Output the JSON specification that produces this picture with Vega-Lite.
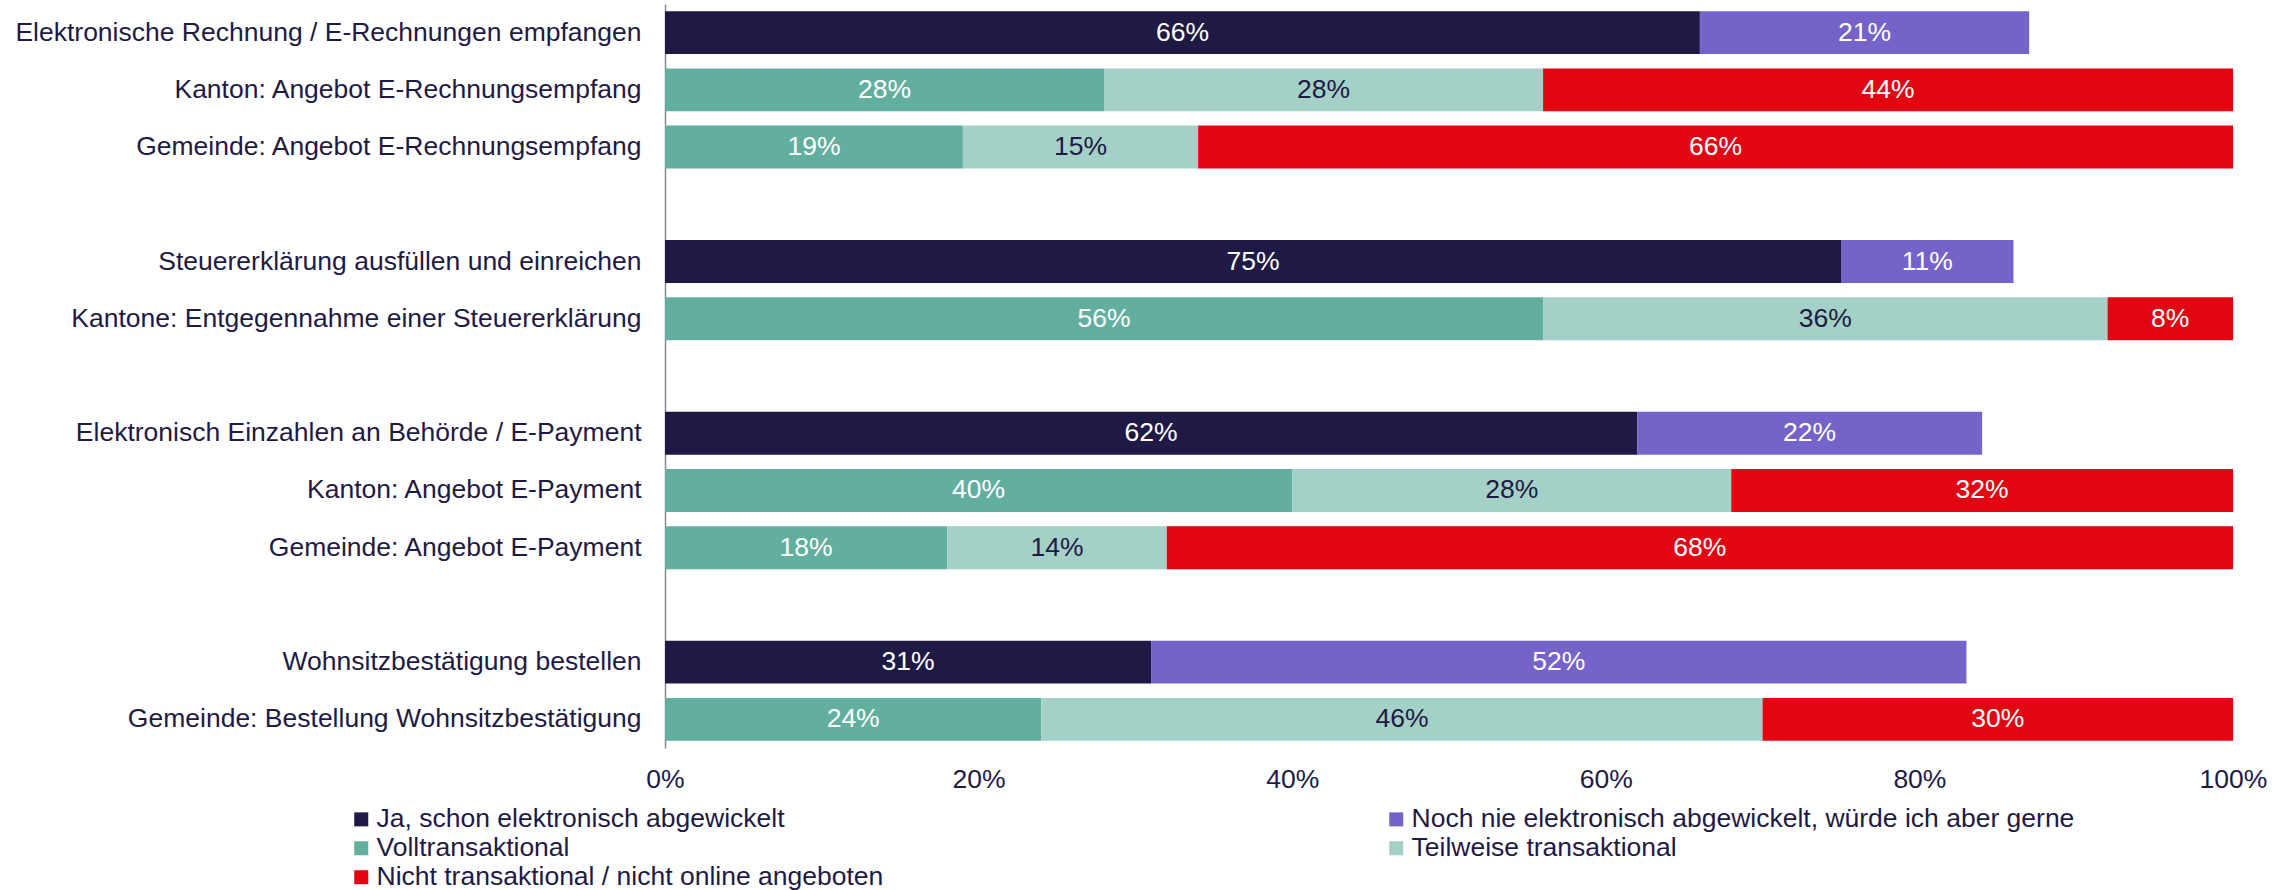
{
  "$schema": "https://vega.github.io/schema/vega-lite/v6.json",
  "autosize": "none",
  "width": 1568,
  "height": 744,
  "padding": {"left": 665, "top": 4, "right": 60, "bottom": 142},
  "background": "white",
  "config": {"font": "Liberation Sans", "view": {"stroke": null}},
  "data": {"values": [
    {"label": "Elektronische Rechnung / E-Rechnungen empfangen", "cat": "Ja, schon elektronisch abgewickelt", "order": 1, "value": 66},
    {"label": "Elektronische Rechnung / E-Rechnungen empfangen", "cat": "Noch nie elektronisch abgewickelt, würde ich aber gerne", "order": 2, "value": 21},
    {"label": "Kanton: Angebot E-Rechnungsempfang", "cat": "Volltransaktional", "order": 3, "value": 28},
    {"label": "Kanton: Angebot E-Rechnungsempfang", "cat": "Teilweise transaktional", "order": 4, "value": 28},
    {"label": "Kanton: Angebot E-Rechnungsempfang", "cat": "Nicht transaktional / nicht online angeboten", "order": 5, "value": 44},
    {"label": "Gemeinde: Angebot E-Rechnungsempfang", "cat": "Volltransaktional", "order": 3, "value": 19},
    {"label": "Gemeinde: Angebot E-Rechnungsempfang", "cat": "Teilweise transaktional", "order": 4, "value": 15},
    {"label": "Gemeinde: Angebot E-Rechnungsempfang", "cat": "Nicht transaktional / nicht online angeboten", "order": 5, "value": 66},
    {"label": "Steuererklärung ausfüllen und einreichen", "cat": "Ja, schon elektronisch abgewickelt", "order": 1, "value": 75},
    {"label": "Steuererklärung ausfüllen und einreichen", "cat": "Noch nie elektronisch abgewickelt, würde ich aber gerne", "order": 2, "value": 11},
    {"label": "Kantone: Entgegennahme einer Steuererklärung", "cat": "Volltransaktional", "order": 3, "value": 56},
    {"label": "Kantone: Entgegennahme einer Steuererklärung", "cat": "Teilweise transaktional", "order": 4, "value": 36},
    {"label": "Kantone: Entgegennahme einer Steuererklärung", "cat": "Nicht transaktional / nicht online angeboten", "order": 5, "value": 8},
    {"label": "Elektronisch Einzahlen an Behörde / E-Payment", "cat": "Ja, schon elektronisch abgewickelt", "order": 1, "value": 62},
    {"label": "Elektronisch Einzahlen an Behörde / E-Payment", "cat": "Noch nie elektronisch abgewickelt, würde ich aber gerne", "order": 2, "value": 22},
    {"label": "Kanton: Angebot E-Payment", "cat": "Volltransaktional", "order": 3, "value": 40},
    {"label": "Kanton: Angebot E-Payment", "cat": "Teilweise transaktional", "order": 4, "value": 28},
    {"label": "Kanton: Angebot E-Payment", "cat": "Nicht transaktional / nicht online angeboten", "order": 5, "value": 32},
    {"label": "Gemeinde: Angebot E-Payment", "cat": "Volltransaktional", "order": 3, "value": 18},
    {"label": "Gemeinde: Angebot E-Payment", "cat": "Teilweise transaktional", "order": 4, "value": 14},
    {"label": "Gemeinde: Angebot E-Payment", "cat": "Nicht transaktional / nicht online angeboten", "order": 5, "value": 68},
    {"label": "Wohnsitzbestätigung bestellen", "cat": "Ja, schon elektronisch abgewickelt", "order": 1, "value": 31},
    {"label": "Wohnsitzbestätigung bestellen", "cat": "Noch nie elektronisch abgewickelt, würde ich aber gerne", "order": 2, "value": 52},
    {"label": "Gemeinde: Bestellung Wohnsitzbestätigung", "cat": "Volltransaktional", "order": 3, "value": 24},
    {"label": "Gemeinde: Bestellung Wohnsitzbestätigung", "cat": "Teilweise transaktional", "order": 4, "value": 46},
    {"label": "Gemeinde: Bestellung Wohnsitzbestätigung", "cat": "Nicht transaktional / nicht online angeboten", "order": 5, "value": 30}
  ]},
  "transform": [
    {"stack": "value", "groupby": ["label"], "sort": [{"field": "order"}], "as": ["v0", "v1"]},
    {"calculate": "(datum.v0 + datum.v1) / 2", "as": "mid"},
    {"calculate": "datum.value + '%'", "as": "txt"}
  ],
  "encoding": {
    "y": {
      "field": "label",
      "type": "nominal",
      "title": null,
      "scale": {
        "domain": [
          "Elektronische Rechnung / E-Rechnungen empfangen",
          "Kanton: Angebot E-Rechnungsempfang",
          "Gemeinde: Angebot E-Rechnungsempfang",
          "gap1",
          "Steuererklärung ausfüllen und einreichen",
          "Kantone: Entgegennahme einer Steuererklärung",
          "gap2",
          "Elektronisch Einzahlen an Behörde / E-Payment",
          "Kanton: Angebot E-Payment",
          "Gemeinde: Angebot E-Payment",
          "gap3",
          "Wohnsitzbestätigung bestellen",
          "Gemeinde: Bestellung Wohnsitzbestätigung"
        ],
        "paddingInner": 0.25,
        "paddingOuter": 0.125
      },
      "axis": {
        "labelExpr": "indexof(datum.value, 'gap') == 0 ? '' : datum.value",
        "labelFontSize": 26.5,
        "labelColor": "#1f1a44",
        "labelPadding": 24,
        "labelLimit": 1000,
        "ticks": false,
        "domainColor": "#8a8a8a",
        "domainWidth": 1.5,
        "grid": false
      }
    }
  },
  "layer": [
    {
      "mark": {"type": "bar"},
      "encoding": {
        "x": {
          "field": "v0",
          "type": "quantitative",
          "title": null,
          "scale": {"domain": [0, 100], "nice": false},
          "axis": {
            "values": [0, 20, 40, 60, 80, 100],
            "labelExpr": "datum.value + '%'",
            "labelFontSize": 26.5,
            "labelColor": "#1f1a44",
            "labelPadding": 18,
            "labelFlush": false,
            "domain": false,
            "ticks": false,
            "grid": false
          }
        },
        "x2": {"field": "v1"},
        "color": {
          "field": "cat",
          "type": "nominal",
          "scale": {
            "domain": [
              "Ja, schon elektronisch abgewickelt",
              "Noch nie elektronisch abgewickelt, würde ich aber gerne",
              "Volltransaktional",
              "Teilweise transaktional",
              "Nicht transaktional / nicht online angeboten"
            ],
            "range": ["#1f1a45", "#7563c9", "#63af9f", "#a3d0c7", "#e20613"]
          },
          "legend": {
            "title": null,
            "orient": "none",
            "legendX": -317,
            "legendY": 802,
            "columns": 2,
            "direction": "horizontal",
            "columnPadding": 499,
            "rowPadding": 2,
            "symbolType": "square",
            "symbolSize": 196,
            "symbolStrokeWidth": 0,
            "symbolOpacity": 1,
            "labelFontSize": 26.5,
            "labelColor": "#1f1a44",
            "labelLimit": 1000,
            "labelOffset": 2
          }
        }
      }
    },
    {
      "mark": {"type": "text", "fontSize": 26.5, "baseline": "middle", "align": "center"},
      "encoding": {
        "x": {"field": "mid", "type": "quantitative"},
        "text": {"field": "txt"},
        "color": {
          "condition": {"test": "datum.cat === 'Teilweise transaktional'", "value": "#1f1a44"},
          "value": "white"
        }
      }
    }
  ]
}
